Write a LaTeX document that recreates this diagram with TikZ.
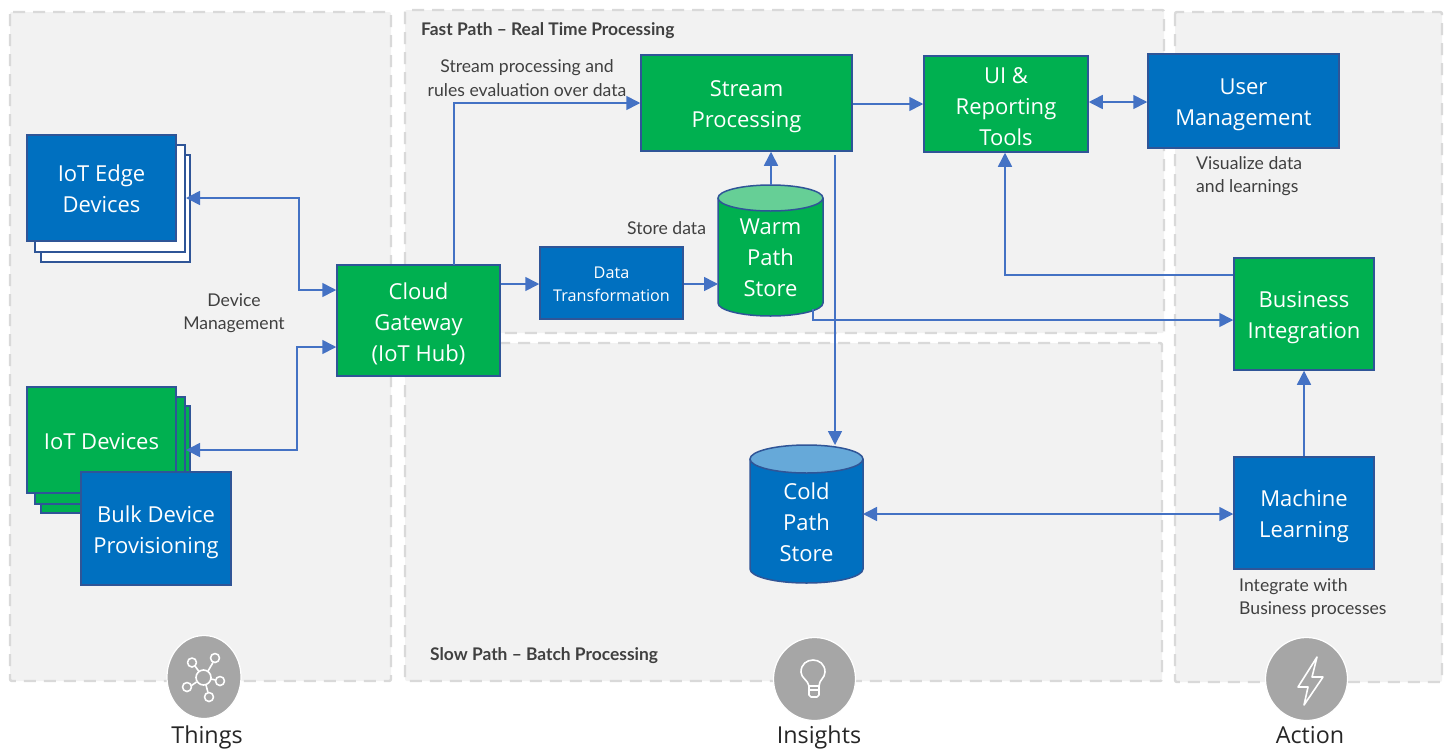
\documentclass[tikz,border=0pt]{standalone}
\usepackage{fontspec}
\setmainfont{Open Sans}
\newfontfamily\labelfont{Lato}
\usetikzlibrary{arrows.meta,calc}
\definecolor{bluefill}{HTML}{0070C0}
\definecolor{greenfill}{HTML}{00B050}
\definecolor{boxline}{HTML}{2F5597}
\definecolor{conn}{HTML}{4472C4}
\definecolor{regionfill}{HTML}{F2F2F2}
\definecolor{regionline}{HTML}{D9D9D9}
\definecolor{icongray}{HTML}{A6A6A6}
\definecolor{warmtop}{HTML}{66CF96}
\definecolor{coldtop}{HTML}{66A9D9}
\tikzset{
  region/.style={fill=regionfill,draw=regionline,line width=2.4pt,dash pattern=on 12pt off 8pt,rounded corners=2pt},
  boxbase/.style={draw=boxline,line width=1.5pt,inner sep=0pt},
  bluebox/.style={boxbase,fill=bluefill},
  greenbox/.style={boxbase,fill=greenfill},
  whitebox/.style={boxbase,fill=white},
  cylline/.style={draw=boxline,line width=1.5pt},
  cyltext/.style={align=center,text=white,inner sep=0pt,font=\fontsize{22}{31}\selectfont},
  smalltext/.style={align=center,text=white,inner sep=0pt,font=\fontsize{16.2}{23}\selectfont},
  link/.style={draw=conn,line width=1.6pt,-{Triangle[length=14pt,width=14pt]}},
  dlink/.style={draw=conn,line width=1.6pt,{Triangle[length=14pt,width=14pt]}-{Triangle[length=14pt,width=14pt]}},
  note/.style={align=center,text=black!75,inner sep=0pt,font=\labelfont\fontsize{17.6}{23.5}\selectfont},
  heading/.style={anchor=west,text=black!75,inner sep=0pt,font=\labelfont\bfseries\fontsize{17.4}{20}\selectfont},
  caption/.style={text=black!85,inner sep=0pt,font=\fontsize{23.3}{28}\selectfont},
  badge/.style={fill=icongray,draw=white,line width=1.2pt},
  icon/.style={draw=white,line width=1.6pt,fill=none,line join=round}
}
% name, box style, x1, y1, x2, y2, text shift down, text style, text
\newcommand{\boxat}[9]{%
  \node[#2,minimum width=#5pt-#3pt,minimum height=#6pt-#4pt] (#1) at ({(#3+#5)/2},{(#4+#6)/2}) {};
  \node[#8,yshift=-#7pt] (#1-text) at (#1.center) {#9};}
\begin{document}
\begin{tikzpicture}[x=1pt,y=-1pt]
\useasboundingbox (0,0) rectangle (1447,750);
\fill[white] (0,0) rectangle (1447,750);
% regions
\draw[region] (10,12) rectangle (391,681);
\draw[region] (405,10) rectangle (1164,333);
\draw[region] (405,343) rectangle (1162,681);
\draw[region] (1175,12) rectangle (1442,682);
\node[heading] (fasthead) at (421,31) {Fast Path – Real Time Processing};
\node[heading] (slowhead) at (430,656) {Slow Path – Batch Processing};
% stacked boxes
\node[whitebox,minimum width=149pt,minimum height=107pt] (edgeC) at (115.5,208.5) {};
\node[whitebox,minimum width=150pt,minimum height=107pt] (edgeB) at (110,198.5) {};
\boxat{edge}{bluebox}{27}{135}{176}{241}{1}{cyltext}{IoT Edge\\Devices}
\node[greenbox,minimum width=149pt,minimum height=107pt] (devC) at (115.5,459.5) {};
\node[greenbox,minimum width=150pt,minimum height=107pt] (devB) at (110,450.5) {};
\boxat{dev}{greenbox}{27}{387}{176}{493}{2}{cyltext}{IoT Devices}
\boxat{bulk}{bluebox}{81}{472}{231}{585}{4}{cyltext}{Bulk Device\\Provisioning}
\boxat{gateway}{greenbox}{337}{265}{500}{376}{3}{cyltext}{Cloud\\Gateway\\(IoT Hub)}
\boxat{transform}{bluebox}{540}{247}{683}{319}{1}{smalltext}{Data\\Transformation}
\boxat{stream}{greenbox}{641}{55}{852}{151}{4}{cyltext}{Stream\\Processing}
\boxat{ui}{greenbox}{924}{56}{1088}{152}{3}{cyltext}{UI \&\\Reporting\\Tools}
\boxat{user}{bluebox}{1148}{54}{1339}{148}{4}{cyltext}{User\\Management}
\boxat{business}{greenbox}{1234}{258}{1374}{370}{4}{cyltext}{Business\\Integration}
\boxat{ml}{bluebox}{1234}{457}{1374}{569}{3}{cyltext}{Machine\\Learning}
% warm cylinder
\path[fill=greenfill,cylline] (718,198) -- (718,303) arc[start angle=180,end angle=360,x radius=52.5pt,y radius=13pt] -- (823,198);
\path[fill=warmtop,cylline] (770.5,198) ellipse[x radius=52.5pt,y radius=13pt];
\node[cyltext] (warm) at (770.5,258) {Warm\\Path\\Store};
\coordinate (warmtopc) at (771,185);
\coordinate (warmout) at (813,309);
% cold cylinder
\path[fill=bluefill,cylline] (750,459) -- (750,569) arc[start angle=180,end angle=360,x radius=56.5pt,y radius=14pt] -- (863,459);
\path[fill=coldtop,cylline] (806.5,459) ellipse[x radius=56.5pt,y radius=14pt];
\node[cyltext] (cold) at (806.5,522) {Cold\\Path\\Store};
% connector waypoints
\coordinate (edgeport) at (186,198);
\coordinate (devport) at (186,450);
\coordinate (gwtop) at (454,265);
\coordinate (streamdrop) at (835,155);
\coordinate (coldtopc) at (835,445);
% connectors
\draw[dlink] (edgeport) -- (299,198) -- (299,290) -- (gateway.west |- 0,290);
\draw[dlink] (devport) -- (297,450) -- (297,347) -- (gateway.west |- 0,347);
\draw[link] (gwtop) -- (454,103) -- (stream.west |- 0,103);
\draw[link] (gateway.east |- 0,284) -- (transform.west |- 0,284);
\draw[link] (transform.east |- 0,284) -- (718,284);
\draw[link] (warmtopc) -- (stream.south -| warmtopc);
\draw[link] (stream.east |- 0,104) -- (ui.west |- 0,104);
\draw[dlink] (ui.east |- 0,102) -- (user.west |- 0,102);
\draw[link] (streamdrop) -- (coldtopc);
\draw[link] (warmout) -- (813,320) -- (business.west |- 0,320);
\draw[link] (business.west |- 0,275) -- (1005,275) -- (ui.south -| 1005,0);
\draw[link] (ml.north) -- (business.south);
\draw[dlink] (863,514) -- (ml.west |- 0,514);
% notes
\node[note] (devmgmt) at (234,313) {Device\\Management};
\node[note] (streamnote) at (527,78) {Stream processing and\\rules evaluation over data};
\node[note,anchor=west] (storenote) at (627,228) {Store data};
\node[note,align=left,anchor=west] (visnote) at (1196,176) {Visualize data\\and learnings};
\node[note,align=left,anchor=west] (intnote) at (1239,598) {Integrate with\\Business processes};
% badges
\path[badge] (204,677) ellipse[x radius=37pt,y radius=41.5pt];
\path[badge] (814.5,679) ellipse[x radius=41pt,y radius=41.5pt];
\path[badge] (1306.5,679) ellipse[x radius=41pt,y radius=41.5pt];
% things icon
\draw[icon] (203.5,677.5) circle (7.5pt);
\draw[icon] (192,662.5) circle (4.5pt) (215,658) circle (4.5pt) (220,681) circle (4.5pt) (187,687) circle (4.5pt) (209,697) circle (4.5pt);
\draw[icon] (195,666) -- (199,671.5) (213,662.5) -- (208,671) (215.5,680) -- (211,679) (191.5,685.5) -- (196.5,682) (208,692.5) -- (206,685);
% bulb icon
\draw[icon] (809,686) .. controls (808,680) and (801,678) .. (801,672) .. controls (801,656) and (825,656) .. (825,672) .. controls (825,678) and (819,680) .. (819,686) -- cycle;
\draw[icon] (809,686) -- (809,695) -- (811,697) -- (817,697) -- (819,695) -- (819,686);
\draw[icon] (809,690) -- (819,690);
% bolt icon
\draw[icon] (1317,657) -- (1298,687) -- (1308,687) -- (1304,705) -- (1323,677) -- (1312,677) -- cycle;
% captions
\node[caption] (things) at (207,737) {Things};
\node[caption] (insights) at (819,737) {Insights};
\node[caption] (action) at (1310,735) {Action};
\end{tikzpicture}
\end{document}
